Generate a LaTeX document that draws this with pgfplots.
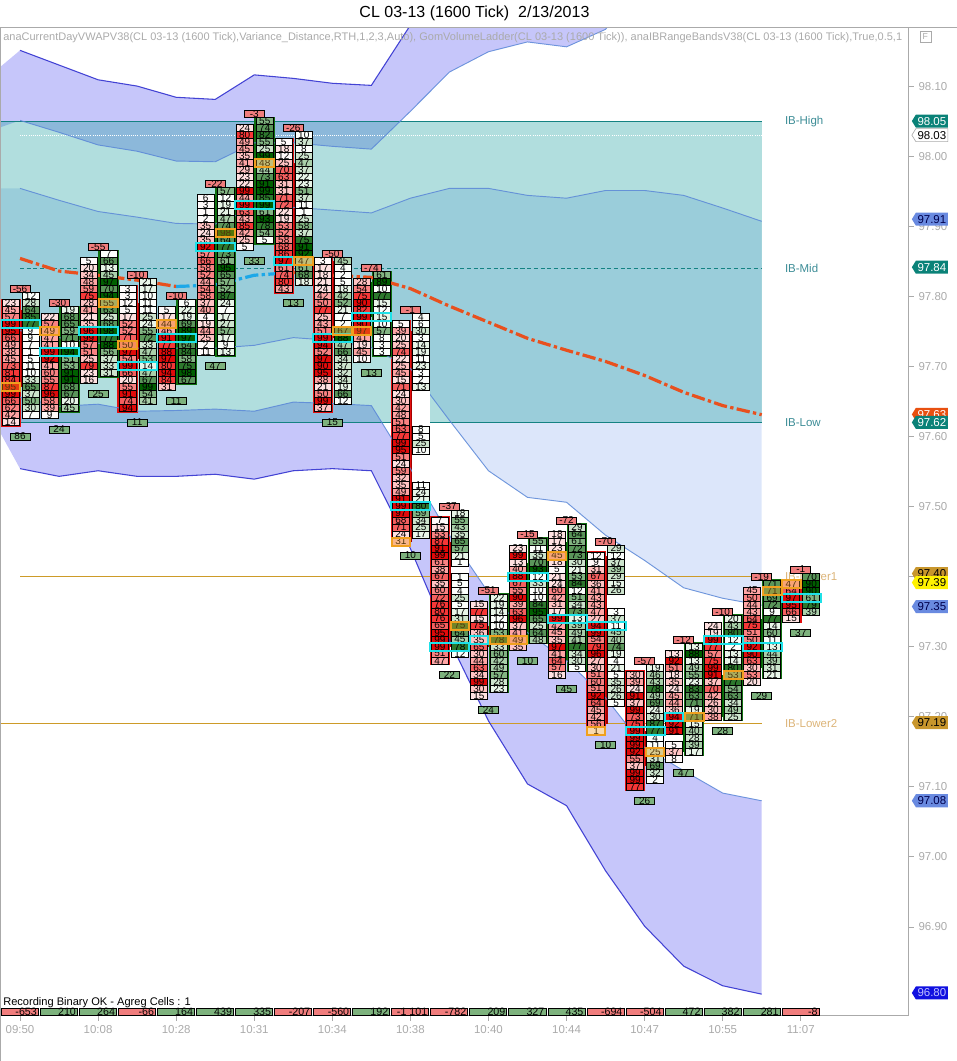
\documentclass[border=0pt]{standalone}
\usepackage{fontspec}
\setmainfont{Liberation Sans}
\usepackage{pgfplots}
\pgfplotsset{compat=1.18}
\usepgfplotslibrary{fillbetween}
\usepackage{pgfplotstable}

\definecolor{tealfill}{RGB}{32,160,160}
\definecolor{tealline}{RGB}{20,130,130}
\definecolor{teallab}{RGB}{60,140,150}
\definecolor{purpfill}{RGB}{198,198,250}
\definecolor{bluefill}{RGB}{220,230,250}
\definecolor{darkline}{RGB}{40,40,205}
\definecolor{thinline}{RGB}{90,135,215}
\definecolor{goldline}{RGB}{205,155,40}
\definecolor{goldlab}{RGB}{220,180,120}
\definecolor{vwap}{RGB}{232,80,30}
\definecolor{vwapb}{RGB}{28,168,232}
\definecolor{axgray}{RGB}{170,170,170}
\definecolor{boxred}{RGB}{226,16,16}
\definecolor{boxgreen}{RGB}{16,112,16}
\definecolor{poc}{RGB}{30,225,232}
\definecolor{imb}{RGB}{240,160,30}
\definecolor{lblred}{RGB}{240,125,125}
\definecolor{lblgreen}{RGB}{125,178,125}
\definecolor{tagteal}{RGB}{10,130,120}
\definecolor{tagblue}{RGB}{105,138,224}
\definecolor{tagorange}{RGB}{232,80,16}
\definecolor{taggold}{RGB}{200,150,44}
\definecolor{tagnavy}{RGB}{16,16,224}
% cell shades by volume, eight steps
\definecolor{bid0}{RGB}{255,250,250}
\definecolor{bid1}{RGB}{255,225,225}
\definecolor{bid2}{RGB}{255,195,195}
\definecolor{bid3}{RGB}{255,165,165}
\definecolor{bid4}{RGB}{250,130,130}
\definecolor{bid5}{RGB}{245,95,95}
\definecolor{bid6}{RGB}{245,55,55}
\definecolor{bid7}{RGB}{225,10,10}
\definecolor{ask0}{RGB}{252,255,252}
\definecolor{ask1}{RGB}{232,245,232}
\definecolor{ask2}{RGB}{205,228,205}
\definecolor{ask3}{RGB}{170,208,170}
\definecolor{ask4}{RGB}{130,180,130}
\definecolor{ask5}{RGB}{90,150,90}
\definecolor{ask6}{RGB}{45,120,45}
\definecolor{ask7}{RGB}{0,95,0}

\newcommand{\cellfont}{\fontsize{7.5}{7.5}\selectfont}
\newcommand{\labfont}{\fontsize{8.6}{9}\selectfont}

% one ladder column: x, top price, then the cells from the top down
\foreach \c in {0,...,7}{%
  \expandafter\gdef\csname bidrows\c\endcsname{}%
  \expandafter\gdef\csname askrows\c\endcsname{}}
\newcommand{\ladder}[4]{%
  \foreach \val [count=\idx from 0] in {#4}{%
    \pgfmathsetmacro{\py}{#3-0.01*\idx}%
    \pgfmathtruncatemacro{\cl}{min(7,\val/12.5)}%
    \expandafter\xdef\csname #1rows\cl\endcsname{\unexpanded\expandafter\expandafter\expandafter{\csname #1rows\cl\endcsname} #2 \py\space\val\noexpand\\ }%
  }}
\newcommand{\bid}[3]{\ladder{bid}{#1}{#2}{#3}}
\newcommand{\ask}[3]{\ladder{ask}{#1}{#2}{#3}}

\bid{10.5}{97.79}{23,45,57,99,95,66,49,38,45,73,81,84,95,99,66,62,42,14}
\ask{30.5}{97.80}{12,28,64,85,77,9,9,7,1,5,11,10,33,65,37,50,30,7}
\bid{49.5}{97.77}{22,57,49,47,41,99,92,41,60,55,87,96,58,39,9}
\ask{69.5}{97.78}{19,68,65,59,71,10,94,51,53,91,91,68,67,20,45}
\bid{88.5}{97.85}{5,20,34,48,59,75,28,41,21,35,96,99,57,51,25,79,23,16}
\ask{108.5}{97.86}{7,66,13,45,97,70,94,55,63,25,68,98,77,88,56,37,33,31}
\bid{127.5}{97.81}{3,3,12,5,17,52,52,71,50,97,54,99,66,20,55,91,74,94}
\ask{147.5}{97.82}{21,17,10,11,11,25,24,55,72,33,47,53,14,47,67,99,54,41}
\bid{166.5}{97.78}{5,17,44,46,91,77,88,97,80,94,84,31}
\ask{186.5}{97.79}{6,22,19,69,89,97,64,84,58,75,98,67}
\bid{205.5}{97.94}{6,3,1,2,35,24,35,92,57,66,58,52,44,54,58,37,40,4,19,44,25,2,11}
\ask{225.5}{97.95}{57,12,19,21,47,74,98,64,77,73,61,95,65,57,52,87,24,7,17,27,57,17,9,13}
\bid{244.5}{98.04}{24,80,49,45,35,41,29,23,22,99,44,99,63,43,85,42,25,5}
\ask{264.5}{98.05}{55,74,82,55,25,99,48,44,73,91,99,85,99,61,93,78,54,5}
\bid{283.5}{98.02}{5,18,12,25,70,63,31,31,71,72,22,19,53,52,58,68,86,97,61,74,80,43}
\ask{303.5}{98.03}{10,37,8,25,47,37,22,23,51,37,11,1,25,58,37,75,91,92,47,61,68,18}
\bid{322.5}{97.85}{3,17,18,21,24,42,50,77,25,43,51,99,94,52,97,90,95,38,21,50,99,37}
\ask{342.5}{97.85}{45,4,2,5,18,42,52,21,7,2,67,88,47,66,34,37,32,34,19,66,12}
\bid{361.5}{97.82}{28,54,75,90,82,99,90,97,41,19,45,10}
\ask{381.5}{97.83}{61,89,10,77,15,12,15,10,57,8,3,3}
\bid{400.5}{97.76}{5,39,20,25,74,22,25,45,15,71,24,30,42,48,51,63,77,99,95,51,24,59,32,35,49,91,99,97,68,71,24,31}
\ask{420.5}{97.77}{4,6,30,3,14,19,11,23,3,2,13}
\ask{420.5}{97.61}{8,5,25,10}
\ask{420.5}{97.53}{11,24,21,80,59,34,25,17}
\bid{439.5}{97.48}{7,15,53,87,91,99,61,38,67,35,60,72,76,80,76,65,95,99,99,51,47}
\ask{459.5}{97.49}{18,55,43,35,65,57,21,1}
\ask{459.5}{97.40}{1,5,4,25,5,17,31,75,64,45,78,12}
\bid{478.5}{97.36}{15,77,15,75,36,35,65,30,44,63,34,99,30,15}
\ask{498.5}{97.37}{22,19,14,12,10,53,78,33,60,42,49,57,28,23}
\bid{517.5}{97.44}{23,99,13,40,88,67,55,90,39,63,96,37,41,49,35}
\ask{537.5}{97.45}{55,11,35,70,93,12,33,10,10,84,95,65,25,64,48}
\bid{556.5}{97.46}{18,17,23,45,18,5,21,24,60,42,31,17,99,42,45,35,97,41,64,57,16}
\ask{576.5}{97.47}{29,64,61,72,73,30,21,53,84,12,51,34,73,13,39,49,41,77,34,30,5}
\bid{595.5}{97.43}{12,9,31,67,36,41,43,43,47,27,94,99,54,79,96,27,30,51,60,51,92,64,45,42,56,1}
\ask{615.5}{97.44}{29,12,37,39,29,15,26}
\ask{615.5}{97.35}{3,37,11,45,40,74,19,4,21,5,35,26,26,5}
\bid{634.5}{97.26}{30,39,24,91,37,99,73,75,99,99,99,92,55,37,99,99,77}
\ask{654.5}{97.27}{19,46,43,78,49,69,24,30,87,77,4,11,25,31,69,32,2}
\bid{673.5}{97.29}{13,92,51,18,35,24,45,44,36,94,92,91}
\bid{673.5}{97.16}{5,37,8}
\ask{693.5}{97.30}{13,88,13,49,55,23,83,63,71,19,71,15,40,28,39,17}
\bid{712.5}{97.33}{24,19,99,77,57,75,99,91,37,70,42,26,30,38}
\ask{732.5}{97.34}{20,43,80,12,2,13,14,80,53,77,54,63,34,49,25}
\bid{751.5}{97.38}{45,50,44,43,64,75,51,50,92,90,63,30,53,20}
\ask{771.5}{97.39}{71,71,69,72,9,77,14,60,11,13,44,39,31,21}
\bid{790.5}{97.39}{47,64,97,95,66,15}
\ask{810.5}{97.40}{70,90,90,61,79,39}

\pgfplotstableread{
x   uo     ui     um     l1     li     lo
0   98.127 98.041 97.954 97.751 97.661 97.606
20  98.151 98.051 97.954 97.751 97.656 97.554
59  98.130 98.034 97.937 97.741 97.643 97.543
98  98.109 98.016 97.921 97.733 97.646 97.551
137 98.100 98.007 97.913 97.726 97.636 97.543
176 98.084 97.993 97.904 97.726 97.637 97.543
215 98.081 97.992 97.903 97.726 97.639 97.546
254 98.116 98.019 97.926 97.730 97.636 97.539
293 98.111 98.019 97.927 97.741 97.649 97.551
332 98.104 98.014 97.923 97.737 97.647 97.554
371 98.101 98.010 97.919 97.727 97.644 97.551
410 98.187 98.064 97.940 97.697 97.554 97.440
449 98.272 98.120 97.954 97.623 97.459 97.309
488 98.300 98.149 97.954 97.551 97.377 97.194
527 98.300 98.163 97.944 97.513 97.320 97.104
566 98.300 98.156 97.940 97.506 97.280 97.073
605 98.300 98.181 97.951 97.459 97.227 96.980
644 98.300 98.250 97.951 97.423 97.156 96.901
683 98.300 98.260 97.944 97.384 97.123 96.844
722 98.300 98.270 97.926 97.369 97.091 96.816
761 98.300 98.280 97.907 97.359 97.080 96.804
}\bands

\pgfdeclareplotmark{cellbox}{\pgfpathrectangle{\pgfpoint{-6.375pt}{-2.625pt}}{\pgfpoint{12.75pt}{5.25pt}}\pgfusepathqfillstroke}
\pgfdeclareplotmark{gapbox}{\pgfpathrectangle{\pgfpoint{-6.75pt}{-2.625pt}}{\pgfpoint{13.5pt}{5.25pt}}\pgfusepathqfill}
\pgfdeclareplotmark{pocrow}{\pgfpathrectangle{\pgfpoint{-14.25pt}{-3pt}}{\pgfpoint{29.25pt}{6pt}}\pgfusepathqstroke}
\pgfdeclareplotmark{pochalf}{\pgfpathrectangle{\pgfpoint{-7pt}{-3pt}}{\pgfpoint{14pt}{6pt}}\pgfusepathqstroke}
\pgfdeclareplotmark{imbcell}{\pgfpathrectangle{\pgfpoint{-7pt}{-3pt}}{\pgfpoint{14pt}{6pt}}\pgfusepathqfillstroke}
\pgfdeclareplotmark{lblbox}{\pgfpathrectangle{\pgfpoint{-7.5pt}{-2.625pt}}{\pgfpoint{15pt}{5.25pt}}\pgfusepathqfillstroke}
\pgfdeclareplotmark{totbox}{\pgfpathrectangle{\pgfpoint{-13.875pt}{-2.625pt}}{\pgfpoint{27.75pt}{5.25pt}}\pgfusepathqfillstroke}

\pgfplotsset{
  ladder cells/.style={only marks, mark=cellbox, point meta=explicit symbolic,
    mark options={line width=.6pt,draw=black,fill=#1},
    nodes near coords={\pgfplotspointmeta},
    every node near coord/.append style={anchor=center,inner sep=0pt,font=\cellfont,text=black}},
  lbl plot/.style={only marks, mark=lblbox, point meta=explicit symbolic,
    mark options={line width=.6pt,draw=black,fill=#1},
    nodes near coords={\pgfplotspointmeta},
    every node near coord/.append style={anchor=center,inner sep=0pt,font=\cellfont,text=black}},
  tot plot/.style={only marks, mark=totbox, point meta=explicit symbolic,
    mark options={line width=.75pt,draw=black,fill=#1},
    nodes near coords={\pgfplotspointmeta},
    every node near coord/.append style={anchor=east,xshift=13pt,inner sep=0pt,font=\fontsize{8}{8}\selectfont,text=black}},
}

% all cells of one shade
\newcommand{\cellplot}[2]{%
  \edef\tmp{\noexpand\addplot[ladder cells=#1#2] table[x=x,y=y,meta=m,row sep=crcr] {x y m\noexpand\\ \unexpanded\expandafter\expandafter\expandafter{\csname #1rows#2\endcsname}};}\tmp}

% coloured outline round one column
\newcommand{\outl}[4]{%
  \pgfmathsetmacro{\xa}{#1-9.25}\pgfmathsetmacro{\xb}{#1+9.25}%
  \pgfmathsetmacro{\ya}{#2+0.005}\pgfmathsetmacro{\yb}{#3-0.005}%
  \edef\tmp{\noexpand\addplot[draw=#4,line width=1.5pt] coordinates {(\xa,\ya)(\xb,\ya)(\xb,\yb)(\xa,\yb)} -- cycle;}\tmp}

% price tag on the right hand scale, y in reference pixels
\newcommand{\ptag}[4]{%
  \fill[#2] (911,#1) -- (915,#1-6.5) -- (947,#1-6.5) -- (947,#1+6.5) -- (915,#1+6.5) -- cycle;
  \node[font=\labfont,text=#3,inner sep=0pt] at (931,#1) {#4};}

\begin{document}
\begin{tikzpicture}
\begin{axis}[
  scale only axis, width=681pt, height=741pt,
  xmin=0, xmax=908, ymin=96.7729, ymax=98.1843,
  axis x line*=bottom, axis y line*=right,
  axis line style={axgray,line width=.8pt},
  tick align=outside, major tick length=3.75pt,
  tick style={axgray,line width=.6pt},
  xtick={20,98,176,254,332,410,488,566,644,722,800},
  xticklabels={09:50,10:08,10:28,10:31,10:34,10:38,10:40,10:44,10:47,10:55,11:07},
  ytick={96.9,97,97.1,97.2,97.3,97.4,97.5,97.6,97.7,97.8,97.9,98,98.1},
  yticklabel pos=right,
  tick label style={font=\labfont,text=axgray},
  /pgf/number format/assume math mode=true,
  yticklabel style={/pgf/number format/fixed,/pgf/number format/fixed zerofill,/pgf/number format/precision=2},
]
% volatility bands, then the initial balance block over them
\addplot[draw=none,name path=uo] table[x=x,y=uo] {\bands};
\addplot[draw=none,name path=ui] table[x=x,y=ui] {\bands};
\addplot[draw=none,name path=um] table[x=x,y=um] {\bands};
\addplot[draw=none,name path=l1] table[x=x,y=l1] {\bands};
\addplot[draw=none,name path=li] table[x=x,y=li] {\bands};
\addplot[draw=none,name path=lo] table[x=x,y=lo] {\bands};
\addplot[bluefill] fill between[of=um and l1];
\addplot[purpfill] fill between[of=uo and ui];
\addplot[purpfill] fill between[of=li and lo];
\addplot[draw=none,fill=tealfill,fill opacity=.35] coordinates {(0,98.05)(761,98.05)(761,97.62)(0,97.62)} -- cycle;

\addplot[tealline,line width=.8pt] coordinates {(0,98.05)(761,98.05)};
\addplot[tealline,line width=.8pt] coordinates {(20,97.62)(761,97.62)};
\addplot[tealline,line width=.6pt,densely dashed] coordinates {(20,97.84)(761,97.84)};
\addplot[white,line width=.6pt,densely dotted] coordinates {(20,98.03)(761,98.03)};
\addplot[color=goldline,line width=1pt] coordinates {(20,97.40)(761,97.40)};
\addplot[color=goldline,line width=1pt] coordinates {(0,97.19)(761,97.19)};

\node[anchor=west,font=\labfont,text=teallab,inner sep=0pt] at (axis cs:784,98.05) {IB-High};
\node[anchor=west,font=\labfont,text=teallab,inner sep=0pt] at (axis cs:784,97.84) {IB-Mid};
\node[anchor=west,font=\labfont,text=teallab,inner sep=0pt] at (axis cs:784,97.62) {IB-Low};
\node[anchor=west,font=\labfont,text=goldlab,inner sep=0pt] at (axis cs:784,97.40) {IB-Lower1};
\node[anchor=west,font=\labfont,text=goldlab,inner sep=0pt] at (axis cs:784,97.19) {IB-Lower2};

% bar bodies between the columns
\addplot[red!65!black,line width=2.25pt,unbounded coords=jump] coordinates {(20.5,97.78)(20.5,97.67)(20.5,nan) (137.5,97.79)(137.5,97.71)(137.5,nan) (293.5,97.99)(293.5,97.85)(293.5,nan) (332.5,97.85)(332.5,97.74)(332.5,nan) (410.5,97.75)(410.5,97.45)(410.5,nan) (449.5,97.45)(449.5,97.30)(449.5,nan) (488.5,97.33)(488.5,97.30)(488.5,nan) (605.5,97.43)(605.5,97.19)(605.5,nan) (644.5,97.18)(644.5,97.13)(644.5,nan) (800.5,97.39)(800.5,97.38)};
\addplot[green!40!black,line width=2.25pt,unbounded coords=jump] coordinates {(59.5,97.74)(59.5,97.67)(59.5,nan) (98.5,97.79)(98.5,97.69)(98.5,nan) (176.5,97.74)(176.5,97.68)(176.5,nan) (215.5,97.89)(215.5,97.79)(215.5,nan) (254.5,97.98)(254.5,97.89)(254.5,nan) (371.5,97.82)(371.5,97.77)(371.5,nan) (527.5,97.42)(527.5,97.31)(527.5,nan) (566.5,97.45)(566.5,97.28)(566.5,nan) (683.5,97.20)(683.5,97.15)(683.5,nan) (722.5,97.26)(722.5,97.20)(722.5,nan) (761.5,97.34)(761.5,97.27)};

% rows with no trade stay white
\addplot[only marks,mark=gapbox,mark options={fill=white}] coordinates {
  (420.5,97.66)(420.5,97.65)(420.5,97.64)(420.5,97.63)(420.5,97.62)
  (420.5,97.57)(420.5,97.56)(420.5,97.55)(420.5,97.54)
  (459.5,97.41)(615.5,97.37)(615.5,97.36)(673.5,97.17)};

\cellplot{bid}{0}\cellplot{bid}{1}\cellplot{bid}{2}\cellplot{bid}{3}
\cellplot{bid}{4}\cellplot{bid}{5}\cellplot{bid}{6}\cellplot{bid}{7}
\cellplot{ask}{0}\cellplot{ask}{1}\cellplot{ask}{2}\cellplot{ask}{3}
\cellplot{ask}{4}\cellplot{ask}{5}\cellplot{ask}{6}\cellplot{ask}{7}

\outl{10.5}{97.79}{97.62}{boxred}
\outl{127.5}{97.81}{97.64}{boxred}
\outl{283.5}{98.02}{97.81}{boxred}
\outl{322.5}{97.85}{97.64}{boxred}
\outl{400.5}{97.76}{97.46}{boxred}
\outl{439.5}{97.48}{97.28}{boxred}
\outl{595.5}{97.43}{97.19}{boxred}
\outl{634.5}{97.26}{97.10}{boxred}
\outl{790.5}{97.39}{97.34}{boxred}
\outl{69.5}{97.78}{97.64}{boxgreen}
\outl{108.5}{97.86}{97.69}{boxgreen}
\outl{186.5}{97.79}{97.68}{boxgreen}
\outl{225.5}{97.95}{97.72}{boxgreen}
\outl{264.5}{98.05}{97.88}{boxgreen}
\outl{381.5}{97.83}{97.72}{boxgreen}
\outl{498.5}{97.37}{97.24}{boxgreen}
\outl{537.5}{97.45}{97.31}{boxgreen}
\outl{576.5}{97.47}{97.27}{boxgreen}
\outl{693.5}{97.30}{97.15}{boxgreen}
\outl{732.5}{97.34}{97.20}{boxgreen}
\outl{771.5}{97.39}{97.26}{boxgreen}

% cells with the most volume
\addplot[only marks,mark=pocrow,mark options={draw=poc,line width=1.5pt}] coordinates {
  (20,97.76)(59,97.72)(98,97.75)(137,97.70)(176,97.74)(215,97.87)(254,97.93)
  (332,97.74)(371,97.77)(410,97.50)(449,97.30)(527,97.40)(566,97.34)(605,97.33)
  (644,97.18)(722,97.31)(761,97.30)(800,97.37)};
\addplot[only marks,mark=pochalf,mark options={draw=poc,line width=1.5pt}] coordinates {
  (283.5,97.85)(478.5,97.31)(673.5,97.20)};
% imbalance cells
\addplot[only marks,mark=imbcell,mark options={draw=imb,fill=imb,fill opacity=.35,draw opacity=1,line width=1.5pt}] coordinates {
  (10.5,97.67)(49.5,97.75)(108.5,97.79)(127.5,97.73)(166.5,97.76)(225.5,97.89)
  (264.5,97.99)(303.5,97.85)(342.5,97.75)(361.5,97.75)(400.5,97.45)(459.5,97.33)
  (498.5,97.31)(517.5,97.31)(556.5,97.43)(595.5,97.18)(654.5,97.15)(693.5,97.20)
  (732.5,97.26)(771.5,97.38)(790.5,97.39)};

% lowest and highest delta of each bar
\addplot[lbl plot=lblred] table[x=x,y=y,meta=m,row sep=crcr] {x y m\\
  20 97.81 -56\\ 59 97.79 -30\\ 98 97.87 -55\\ 137 97.83 -10\\ 176 97.80 -10\\
  215 97.96 -22\\ 254 98.06 -3\\ 293 98.04 -26\\ 332 97.86 -50\\ 371 97.84 -74\\
  410 97.78 -1\\ 449 97.50 -37\\ 488 97.38 -51\\ 527 97.46 -15\\ 566 97.48 -72\\
  605 97.45 -70\\ 644 97.28 -57\\ 683 97.31 -12\\ 722 97.35 -10\\ 761 97.40 -19\\
  800 97.41 -1\\};
\addplot[lbl plot=lblgreen] table[x=x,y=y,meta=m,row sep=crcr] {x y m\\
  20 97.60 86\\ 59 97.61 24\\ 98 97.66 25\\ 137 97.62 11\\ 176 97.65 11\\
  215 97.70 47\\ 254 97.85 33\\ 293 97.79 13\\ 332 97.62 15\\ 371 97.69 13\\
  410 97.43 10\\ 449 97.26 22\\ 488 97.21 24\\ 527 97.28 10\\ 566 97.24 45\\
  605 97.16 10\\ 644 97.08 26\\ 683 97.12 47\\ 722 97.18 28\\ 761 97.23 29\\
  800 97.32 37\\};

% bar totals along the bottom
\addplot[tot plot=lblred] table[x=x,y=y,meta=m,row sep=crcr] {x y m\\
  20 96.779 -653\\ 137 96.779 -66\\ 293 96.779 -207\\ 332 96.779 -560\\
  410 96.779 {-1 101}\\ 449 96.779 -782\\ 605 96.779 -694\\ 644 96.779 -504\\
  800 96.779 -8\\};
\addplot[tot plot=lblgreen] table[x=x,y=y,meta=m,row sep=crcr] {x y m\\
  59 96.779 210\\ 98 96.779 264\\ 176 96.779 164\\ 215 96.779 439\\ 254 96.779 335\\
  371 96.779 192\\ 488 96.779 209\\ 527 96.779 327\\ 566 96.779 435\\ 683 96.779 472\\
  722 96.779 382\\ 761 96.779 281\\};

% band lines and VWAP run over the ladders
\addplot[darkline,line width=.8pt,opacity=.85,skip coords between index={0}{1}] table[x=x,y=uo] {\bands};
\addplot[thinline,line width=.7pt,opacity=.85,skip coords between index={0}{1}] table[x=x,y=ui] {\bands};
\addplot[thinline,line width=.7pt,opacity=.85,skip coords between index={0}{1}] table[x=x,y=um] {\bands};
\addplot[thinline,line width=.7pt,opacity=.85,skip coords between index={0}{1}] table[x=x,y=l1] {\bands};
\addplot[thinline,line width=.7pt,opacity=.85,skip coords between index={0}{1}] table[x=x,y=li] {\bands};
\addplot[darkline,line width=.8pt,opacity=.85,skip coords between index={0}{1}] table[x=x,y=lo] {\bands};

\addplot[vwap,line width=2.4pt,dash pattern=on 10pt off 2.5pt on 2.5pt off 2.5pt] coordinates {
  (20,97.854)(59,97.836)(98,97.830)(137,97.823)(176,97.814)};
\addplot[vwapb,line width=2.4pt,dash pattern=on 10pt off 2.5pt on 2.5pt off 2.5pt] coordinates {
  (176,97.814)(215,97.816)(254,97.830)(293,97.834)};
\addplot[vwap,line width=2.4pt,dash pattern=on 10pt off 2.5pt on 2.5pt off 2.5pt] coordinates {
  (293,97.834)(332,97.830)(371,97.827)(410,97.811)(449,97.786)(488,97.763)(527,97.740)
  (566,97.723)(605,97.707)(644,97.687)(683,97.663)(722,97.644)(761,97.631)};
\end{axis}

% pixel coordinates of the reference for the frame, tags and texts
\begin{scope}[shift={(0,761.25pt)},x=.75pt,y=-.75pt]
\draw[axgray,line width=.75pt] (0.5,1060.5) -- (0.5,27.5) -- (956,27.5);
\draw[axgray,line width=.75pt] (0,1060.5) -- (956,1060.5);
\ptag{121}{tagteal}{white}{98.05}
\fill[white,draw=axgray,line width=.5pt] (911,135) -- (915,128.5) -- (947,128.5) -- (947,141.5) -- (915,141.5) -- cycle;
\node[font=\labfont,text=black,inner sep=0pt] at (931,135) {98.03};
\ptag{219}{tagblue}{black!70!blue}{97.91}
\ptag{267}{tagteal}{white}{97.84}
\ptag{414}{tagorange}{white}{97.63}
\ptag{422}{tagteal}{white}{97.62}
\ptag{573}{taggold}{black}{97.40}
\ptag{582}{yellow}{black}{97.39}
\ptag{606}{tagblue}{black!70!blue}{97.35}
\ptag{722}{taggold}{black}{97.19}
\ptag{800}{tagblue}{black!70!blue}{97.08}
\ptag{992}{tagnavy}{blue!25!white}{96.80}
\node[font=\fontsize{12}{14}\selectfont,inner sep=0pt] at (474,13) {CL 03-13 (1600 Tick)\ \ 2/13/2013};
\node[anchor=west,font=\fontsize{8.25}{9}\selectfont,text=axgray,inner sep=0pt] at (3,38) {anaCurrentDayVWAPV38(CL 03-13 (1600 Tick),Variance\_Distance,RTH,1,2,3,Auto), GomVolumeLadder(CL 03-13 (1600 Tick)), anaIBRangeBandsV38(CL 03-13 (1600 Tick),True,0.5,1};
\draw[axgray,fill=white,line width=.5pt] (919,31) rectangle (930,42);
\node[font=\fontsize{6.5}{7}\selectfont,text=axgray,inner sep=0pt] at (924.5,36.5) {F};
\node[anchor=west,font=\fontsize{8.3}{9}\selectfont,inner sep=0pt] at (3,1002) {Recording Binary OK - Agreg Cells : 1};
\end{scope}
\pgfresetboundingbox
\path[use as bounding box] (0,-33.75pt) rectangle (717pt,761.25pt);
\end{tikzpicture}
\end{document}
